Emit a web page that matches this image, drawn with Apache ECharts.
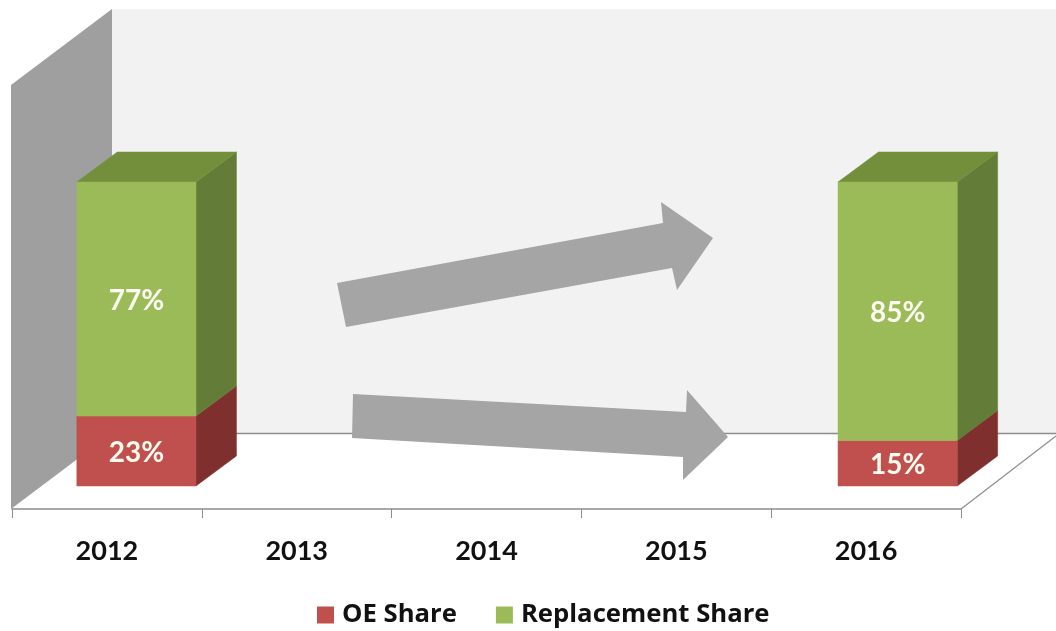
<!DOCTYPE html>
<html>
<head>
<meta charset="utf-8">
<style>html,body{margin:0;padding:0;background:#fff}#c{width:1056px;height:631px}</style>
<script src="https://cdn.jsdelivr.net/npm/echarts@6/dist/echarts.min.js"></script>
</head>
<body>
<div id="c"></div>
<script>
const categories = ['2012', '2013', '2014', '2015', '2016'];
const oeShare = [23, null, null, null, 15];
const replacementShare = [77, null, null, null, 85];

const FONT = 'Lato, "Open Sans", sans-serif';
const LEGEND_FONT = '"Open Sans", Lato, sans-serif';
const chart = echarts.init(document.getElementById('c'), null, {renderer: 'canvas'});

function poly(points, fill) {
  return {type: 'polygon', shape: {points}, style: {fill, stroke: fill, lineWidth: 0.5}};
}

function boxSeries(name, values, baseValues, front, side, top, withTop) {
  const data = [];
  values.forEach((v, i) => {
    if (v !== null) {
      const b = baseValues ? baseValues[i] : 0;
      data.push([i, b, b + v, v]);
    }
  });
  return {
    name, type: 'custom', coordinateSystem: 'cartesian2d',
    itemStyle: {color: front},
    encode: {x: 0, y: [1, 2]},
    data,
    renderItem(params, api) {
      const i = api.value(0);
      const c0 = api.coord([i, api.value(1)]);
      const c1 = api.coord([i, api.value(2)]);
      const band = api.size([1, 0])[0];
      const w = band * 0.628;
      const shift = band * 0.1555 + i * 0.5;
      const l = c0[0] + shift - w / 2, r = l + w;
      const d = band * 0.213, dy = -30;
      const kids = [
        poly([[r, c0[1]], [r + d, c0[1] + dy], [r + d, c1[1] + dy], [r, c1[1]]], side)
      ];
      if (withTop) {
        kids.push(poly([[l, c1[1]], [r, c1[1]], [r + d, c1[1] + dy], [l + d, c1[1] + dy]], top));
      }
      kids.push(poly([[l, c0[1]], [r, c0[1]], [r, c1[1]], [l, c1[1]]], front));
      kids.push({
        type: 'text', z2: 5,
        style: {
          text: api.value(3) + '%', x: (l + r) / 2, y: (c0[1] + c1[1]) / 2 + 2,
          align: 'center', verticalAlign: 'middle', fill: '#fbfbf0',
          font: 'bold 28px ' + FONT
        }
      });
      return {type: 'group', children: kids};
    }
  };
}

chart.setOption({
  animation: false,
  backgroundColor: '#ffffff',
  grid: {left: 12, top: 182, width: 949, height: 304, containLabel: false},
  xAxis: {
    type: 'category', data: categories, offset: 23,
    axisLine: {show: true, onZero: false, lineStyle: {color: '#8c8c8c', width: 1.5}},
    axisTick: {show: true, length: 9, lineStyle: {color: '#8c8c8c', width: 1}},
    axisLabel: {color: '#111', fontFamily: FONT, fontWeight: 'bold', fontSize: 27, margin: 29},
    splitLine: {show: false}
  },
  yAxis: {type: 'value', min: 0, max: 100, show: false},
  legend: {
    left: 312, top: 597, itemGap: 39, itemWidth: 17, itemHeight: 17, icon: 'rect',
    data: ['OE Share', 'Replacement Share'],
    textStyle: {color: '#111', fontFamily: LEGEND_FONT, fontWeight: 'bold', fontSize: 25.7, padding: [0, 0, 0, 3]}
  },
  graphic: {
    elements: [
      {type: 'polygon', z: -10, shape: {points: [[112, 9], [1056, 9], [1056, 433], [112, 433]]}, style: {fill: '#f2f2f2'}},
      {type: 'polygon', z: -9, shape: {points: [[11, 85], [112, 9], [112, 433], [11, 509]]}, style: {fill: '#9f9f9f'}},
      {type: 'line', z: -8, shape: {x1: 112, y1: 433.5, x2: 1056, y2: 433.5}, style: {stroke: '#8c8c8c', lineWidth: 1.5}},
      {type: 'line', z: -8, shape: {x1: 961, y1: 509, x2: 1056, y2: 436}, style: {stroke: '#8c8c8c', lineWidth: 1.2}},
      {type: 'polygon', z: 20, shape: {points: [[337, 283], [663, 223], [661, 202], [713, 238], [677, 290], [672, 268], [346, 327]]}, style: {fill: '#a5a5a5'}},
      {type: 'polygon', z: 20, shape: {points: [[353, 394], [686, 412], [687, 390], [728, 437], [683, 480], [683, 457], [352, 438]]}, style: {fill: '#a5a5a5'}}
    ]
  },
  series: [
    boxSeries('OE Share', oeShare, null, '#c0504d', '#7f302e', '#7f302e', false),
    boxSeries('Replacement Share', replacementShare, oeShare, '#9bbb59', '#637c38', '#748f3c', true)
  ]
});
</script>
</body>
</html>
